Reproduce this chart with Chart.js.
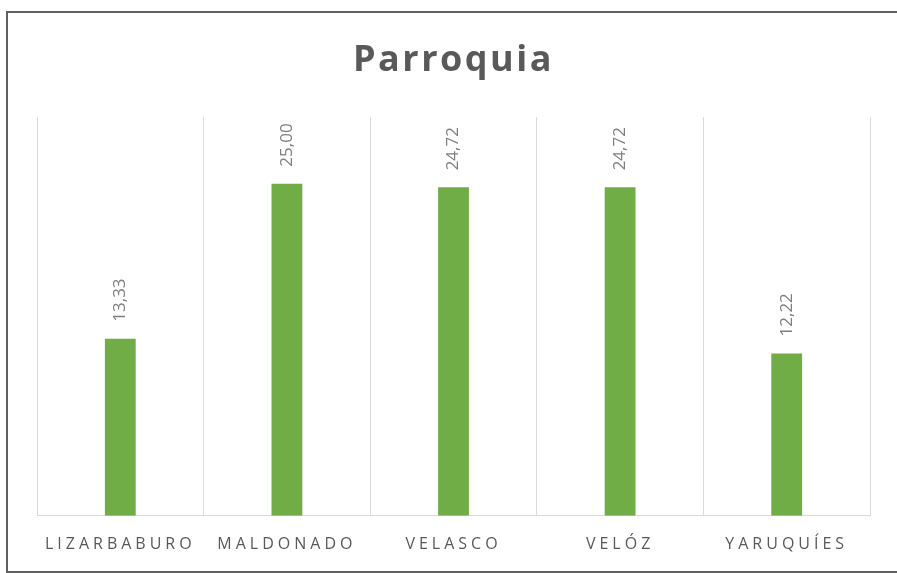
<!DOCTYPE html>
<html>
<head>
<meta charset="utf-8">
<script src="https://cdn.jsdelivr.net/npm/chart.js@4"></script>
<style>
  html, body { margin: 0; padding: 0; background: #fff; }
  #frame { position: absolute; left: 6px; top: 11px; width: 900px; height: 558px; border: 2px solid #606060; }
  #wrap { position: absolute; left: 0; top: 0; width: 897px; height: 573px; }
</style>
</head>
<body>
<div id="frame"></div>
<div id="wrap"><canvas id="parroquiaChart"></canvas></div>
<script>
const categorias = ['LIZARBABURO', 'MALDONADO', 'VELASCO', 'VELÓZ', 'YARUQUÍES'];
const valores = [13.33, 25.00, 24.72, 24.72, 12.22];

const fuente = '"Open Sans", "Noto Sans", sans-serif';

// etiquetas de datos verticales encima de cada barra
const etiquetasBarras = {
    id: 'etiquetasBarras',
    afterDatasetsDraw(chart) {
        const ctx = chart.ctx;
        const meta = chart.getDatasetMeta(0);
        meta.data.forEach((bar, i) => {
            const texto = valores[i].toFixed(2).replace('.', ',');
            ctx.save();
            ctx.translate(bar.x, bar.y - 17);
            ctx.rotate(-Math.PI / 2);
            ctx.font = '17px ' + fuente;
            ctx.fillStyle = '#7f7f7f';
            ctx.textAlign = 'left';
            ctx.textBaseline = 'middle';
            ctx.fillText(texto, 0, 0);
            ctx.restore();
        });
    }
};

// espaciado entre letras para el titulo y las categorias
function conEspacio(obj, metodo, px) {
    if (!obj || obj['_esp_' + metodo]) return;
    const orig = obj[metodo];
    obj[metodo] = function () {
        const c = this.ctx;
        c.save();
        c.letterSpacing = px;
        orig.apply(this, arguments);
        c.restore();
    };
    obj['_esp_' + metodo] = true;
}

const espaciado = {
    id: 'espaciado',
    beforeDraw(chart) {
        conEspacio(chart.scales.x, 'drawLabels', '4px');
        conEspacio(chart.titleBlock, 'draw', '2.5px');
    }
};

const ctx = document.getElementById('parroquiaChart').getContext('2d');

const parroquiaChart = new Chart(ctx, {
    type: 'bar',
    data: {
        labels: categorias,
        datasets: [{
            label: 'Parroquia',
            data: valores,
            backgroundColor: '#70AD47',
            borderWidth: 0,
            categoryPercentage: 1,
            barPercentage: 0.185
        }]
    },
    options: {
        responsive: true,
        maintainAspectRatio: false,
        animation: false,
        layout: {
            padding: { left: 37, right: 27, top: 0, bottom: 0 }
        },
        scales: {
            y: {
                display: false,
                min: 0,
                max: 30
            },
            x: {
                grid: {
                    color: '#d9d9d9',
                    lineWidth: 1,
                    drawTicks: false,
                    offset: true
                },
                border: {
                    color: '#d9d9d9',
                    width: 1
                },
                ticks: {
                    color: '#595959',
                    font: { family: fuente, size: 16 },
                    padding: 19,
                    autoSkip: false,
                    maxRotation: 0
                }
            }
        },
        plugins: {
            legend: { display: false },
            tooltip: { enabled: false },
            title: {
                display: true,
                text: 'Parroquia',
                color: '#595959',
                font: { family: fuente, size: 36, weight: 'bold' },
                padding: { top: 39, bottom: 35 }
            }
        }
    },
    plugins: [etiquetasBarras, espaciado]
});
</script>
</body>
</html>
